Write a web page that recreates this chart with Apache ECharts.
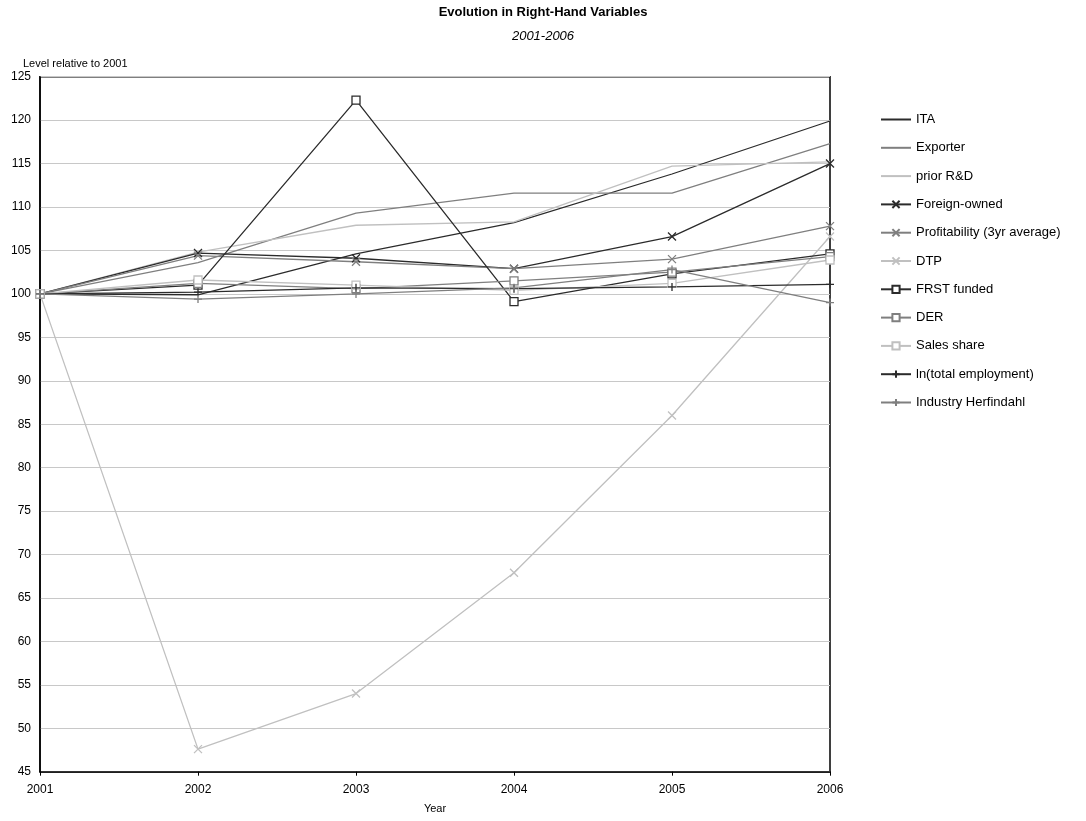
<!DOCTYPE html>
<html>
<head>
<meta charset="utf-8">
<script src="https://cdn.jsdelivr.net/npm/echarts@6/dist/echarts.min.js"></script>
<style>
  html, body { margin: 0; padding: 0; background: #fff; }
  #chart { width: 1086px; height: 821px; }
</style>
</head>
<body>
<div id="chart"></div>
<script>
const years = ["2001", "2002", "2003", "2004", "2005", "2006"];

const ita = [100, 99.9, 104.6, 108.2, 113.8, 119.9];
const exporter = [100, 103.6, 109.3, 111.6, 111.6, 117.3];
const priorRD = [100, 104.8, 107.9, 108.3, 114.7, 115.2];
const foreignOwned = [100, 104.7, 104.1, 102.9, 106.6, 115.0];
const profitability = [100, 104.4, 103.7, 102.9, 104.0, 107.8];
const dtp = [100, 47.6, 54.0, 67.9, 86.0, 106.6];
const frstFunded = [100, 101.0, 122.3, 99.1, 102.3, 104.6];
const der = [100, 101.2, 100.6, 101.5, 102.5, 104.3];
const salesShare = [100, 101.6, 101.0, 100.4, 101.2, 103.9];
const lnEmployment = [100, 100.2, 100.7, 100.6, 100.8, 101.1];
const herfindahl = [100, 99.4, 100.0, 100.7, 102.8, 99.0];

const DARK = "#2b2b2b";
const MID = "#7f7f7f";
const LIGHT = "#c0c0c0";

const CROSS = "path://M0,0L10,10M10,0L0,10";
const PLUS = "path://M5,0L5,10M0,5L10,5";

// one helper for every line; marker is optional
function line(name, data, color, symbol) {
  const s = {
    name: name,
    type: "line",
    data: data,
    lineStyle: { color: color, width: 1.3 },
    itemStyle: { color: color },
    emphasis: { disabled: true },
    animation: false
  };
  if (!symbol) {
    s.symbol = "none";
  } else if (symbol === "rect") {
    s.symbol = "rect";
    s.symbolSize = 8;
    s.itemStyle = { color: "#fff", borderColor: color, borderWidth: 1.3 };
  } else {
    s.symbol = symbol;
    s.symbolSize = 8;
    s.itemStyle = { color: color, borderColor: color, borderWidth: 1.3 };
  }
  return s;
}

const chart = echarts.init(document.getElementById("chart"));
chart.setOption({
  backgroundColor: "#fff",
  textStyle: { fontFamily: "Liberation Sans, Arial, sans-serif" },
  title: {
    text: "Evolution in Right-Hand Variables",
    subtext: "2001-2006",
    left: "center",
    top: 1,
    itemGap: 11,
    textStyle: { fontSize: 13, fontWeight: "bold", color: "#000" },
    subtextStyle: { fontSize: 13, fontStyle: "italic", color: "#000" }
  },
  graphic: [
    {
      type: "text",
      left: 23,
      top: 58,
      style: { text: "Level relative to 2001", fontSize: 11, fill: "#000", fontFamily: "Liberation Sans, Arial, sans-serif" }
    }
  ],
  legend: {
    orient: "vertical",
    left: 875,
    top: 108,
    itemWidth: 30,
    itemHeight: 9,
    itemGap: 15.3,
    textStyle: { fontSize: 13, color: "#000" },
    data: [
      { name: "ITA", itemStyle: { opacity: 0 } },
      { name: "Exporter", itemStyle: { opacity: 0 } },
      { name: "prior R&D", itemStyle: { opacity: 0 } },
      "Foreign-owned", "Profitability (3yr average)", "DTP",
      "FRST funded", "DER", "Sales share", "ln(total employment)", "Industry Herfindahl"
    ]
  },
  grid: {
    left: 40,
    right: 256,
    top: 76.7,
    bottom: 49.3,
    show: true,
    borderColor: "#000",
    borderWidth: 1.5,
    containLabel: false
  },
  xAxis: {
    type: "category",
    data: years,
    boundaryGap: false,
    name: "Year",
    nameLocation: "middle",
    nameGap: 32,
    nameTextStyle: { fontSize: 11, color: "#000" },
    axisLine: { lineStyle: { color: "#000", width: 1.5 } },
    axisTick: { show: true, length: 4, lineStyle: { color: "#000" } },
    axisLabel: { fontSize: 12, color: "#000", margin: 12 },
    splitLine: { show: false }
  },
  yAxis: {
    type: "value",
    min: 45,
    max: 125,
    interval: 5,
    axisLine: { show: true, lineStyle: { color: "#000", width: 1.5 } },
    axisTick: { show: false },
    axisLabel: { fontSize: 12, color: "#000", margin: 9 },
    splitLine: { lineStyle: { color: "#c8c8c8", width: 1 } }
  },
  series: [
    line("ITA", ita, DARK),
    line("Exporter", exporter, MID),
    line("prior R&D", priorRD, LIGHT),
    line("Foreign-owned", foreignOwned, DARK, CROSS),
    line("Profitability (3yr average)", profitability, MID, CROSS),
    line("DTP", dtp, LIGHT, CROSS),
    line("FRST funded", frstFunded, DARK, "rect"),
    line("DER", der, MID, "rect"),
    line("Sales share", salesShare, LIGHT, "rect"),
    line("ln(total employment)", lnEmployment, DARK, PLUS),
    line("Industry Herfindahl", herfindahl, MID, PLUS)
  ]
});
</script>
</body>
</html>
